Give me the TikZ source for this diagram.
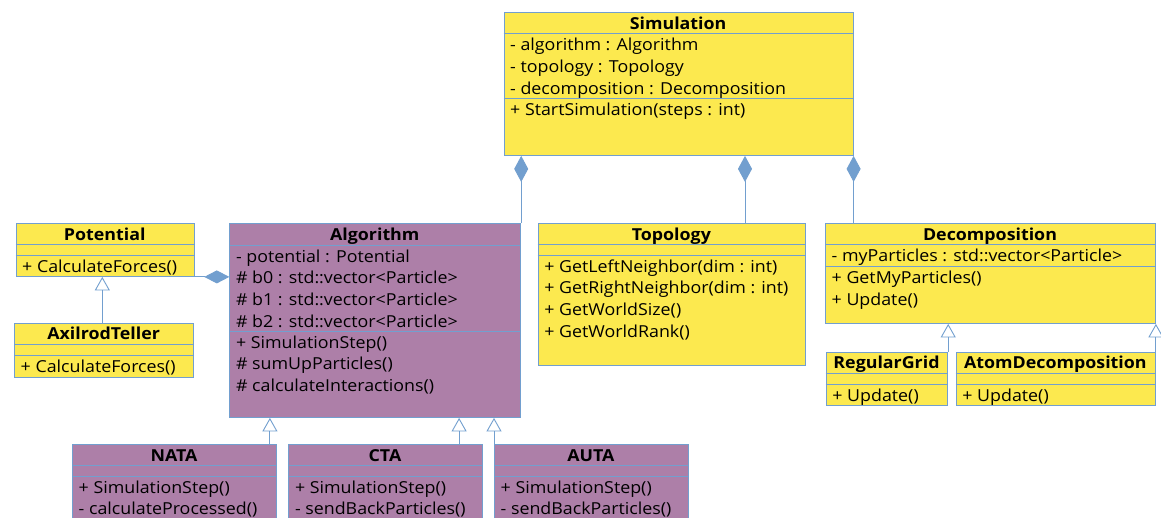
\documentclass[tikz,border=0pt]{standalone}
\usepackage{fontspec}
\setmainfont[FakeStretch=1.08]{Open Sans}
\usetikzlibrary{arrows.meta,calc}
\definecolor{butter}{HTML}{FCE94F}
\definecolor{plum}{HTML}{AD7FA8}
\definecolor{sky}{HTML}{729FCF}
\tikzset{
  classbox/.style={draw=sky, line width=0.9pt, rectangle, inner sep=0pt, anchor=north west},
  ycls/.style={classbox, fill=butter},
  pcls/.style={classbox, fill=plum},
  sepline/.style={draw=sky, line width=0.9pt},
  ctitle/.style={font=\fontsize{16.5}{18}\selectfont\bfseries, anchor=base, inner sep=0pt},
  member/.style={font=\fontsize{16.5}{18}\selectfont, anchor=base west, inner sep=0pt},
  link/.style={draw=sky, line width=0.9pt},
  composed/.style={link, -{Diamond[length=26pt,width=14pt,fill=sky]}},
  inherits/.style={link, -{Triangle[open,length=13.5pt,width=15pt,fill=white]}},
}
% #1 name, #2 style, #3 left, #4 top, #5 right, #6 bottom, #7 first separator, #8 second separator, #9 title
\newcommand\umlclass[9]{%
  \node[#2, minimum width={(#5-#3)*1pt}, minimum height={(#6-#4)*1pt}] (#1) at (#3,#4) {};
  \draw[sepline] (#3,#7) -- (#5,#7);
  \draw[sepline] (#3,#8) -- (#5,#8);
  \node[ctitle] (#1-title) at ({(#3+#5)/2},{#4+17}) {#9};
}
% #1 name prefix, #2 box left, #3 first baseline, #4 member lines
\newcommand\umlmembers[4]{%
  \foreach \m [count=\i] in {#4}
    \node[member] (#1-\i) at ({#2+6.5},{#3+21.7*(\i-1)}) {\m};
}
\begin{document}
\begin{tikzpicture}[x=1pt,y=-1pt]
\clip (0,0) rectangle (1161,517);
\fill[white] (0,0) rectangle (1161,517);

% Simulation
\umlclass{sim}{ycls}{503.5}{12}{852.7}{155}{33.5}{98}{Simulation}
\umlmembers{sima}{503.5}{50.7}{{- algorithm : Algorithm},{- topology : Topology},{- decomposition : Decomposition}}
\umlmembers{simm}{503.5}{115.2}{{+ StartSimulation(steps : int)}}

% Potential and AxilrodTeller
\umlclass{pot}{ycls}{15.5}{223.3}{194}{276}{244.3}{255}{Potential}
\umlmembers{potm}{15.5}{272.2}{{+ CalculateForces()}}
\umlclass{axil}{ycls}{14}{322.7}{193.3}{376.7}{344.3}{355}{AxilrodTeller}
\umlmembers{axilm}{14}{372.2}{{+ CalculateForces()}}

% Algorithm
\umlclass{alg}{pcls}{229.3}{223}{520.3}{417}{245}{331}{Algorithm}
\umlmembers{alga}{229.3}{262.2}{{- potential : Potential},{\# b0 : std::vector<Particle>},{\# b1 : std::vector<Particle>},{\# b2 : std::vector<Particle>}}
\umlmembers{algm}{229.3}{348.2}{{+ SimulationStep()},{\# sumUpParticles()},{\# calculateInteractions()}}

% Topology
\umlclass{topo}{ycls}{537.7}{223.3}{805}{365}{244.3}{255}{Topology}
\umlmembers{topom}{537.7}{272.2}{{+ GetLeftNeighbor(dim : int)},{+ GetRightNeighbor(dim : int)},{+ GetWorldSize()},{+ GetWorldRank()}}

% Decomposition and its subclasses
\umlclass{dec}{ycls}{825}{223}{1155}{323}{244.3}{266.7}{Decomposition}
\umlmembers{deca}{825}{261.5}{{- myParticles : std::vector<Particle>}}
\umlmembers{decm}{825}{283.9}{{+ GetMyParticles()},{+ Update()}}
\umlclass{rg}{ycls}{825.7}{351.7}{947.3}{405}{373.3}{384}{RegularGrid}
\umlmembers{rgm}{825.7}{401.2}{{+ Update()}}
\umlclass{ad}{ycls}{955.7}{351.7}{1155}{405}{373.3}{384}{AtomDecomposition}
\umlmembers{adm}{955.7}{401.2}{{+ Update()}}

% Algorithm subclasses
\umlclass{nata}{pcls}{72}{444}{276}{560}{465.7}{476}{NATA}
\umlmembers{natam}{72}{493.2}{{+ SimulationStep()},{- calculateProcessed()}}
\umlclass{cta}{pcls}{288.3}{444}{481.7}{560}{465.7}{476}{CTA}
\umlmembers{ctam}{288.3}{493.2}{{+ SimulationStep()},{- sendBackParticles()}}
\umlclass{auta}{pcls}{494}{444}{687.7}{560}{465.7}{476}{AUTA}
\umlmembers{autam}{494}{493.2}{{+ SimulationStep()},{- sendBackParticles()}}

% compositions
\draw[composed] (alg.north east) -- (alg.north east |- sim.south);
\draw[composed] ([xshift=207.3pt]topo.north west) -- ([xshift=207.3pt]topo.north west |- sim.south);
\draw[composed] (dec.north west -| sim.south east) -- (sim.south east);
\draw[link, -{Diamond[length=25pt,width=13pt,fill=sky]}] (pot.south east) -- (pot.south east -| alg.west);

% generalizations
\draw[inherits] ([xshift=-1.8pt]axil.north) -- ([xshift=-1.8pt]axil.north |- pot.south);
\draw[inherits] ([xshift=-7pt]nata.north east) -- ([xshift=-7pt]nata.north east |- alg.south);
\draw[inherits] ([xshift=-23.5pt]cta.north east) -- ([xshift=-23.5pt]cta.north east |- alg.south);
\draw[inherits] (auta.north west) -- (auta.north west |- alg.south);
\draw[inherits] (rg.north east) -- (rg.north east |- dec.south);
\draw[inherits] (ad.north east) -- (ad.north east |- dec.south);
\end{tikzpicture}
\end{document}
